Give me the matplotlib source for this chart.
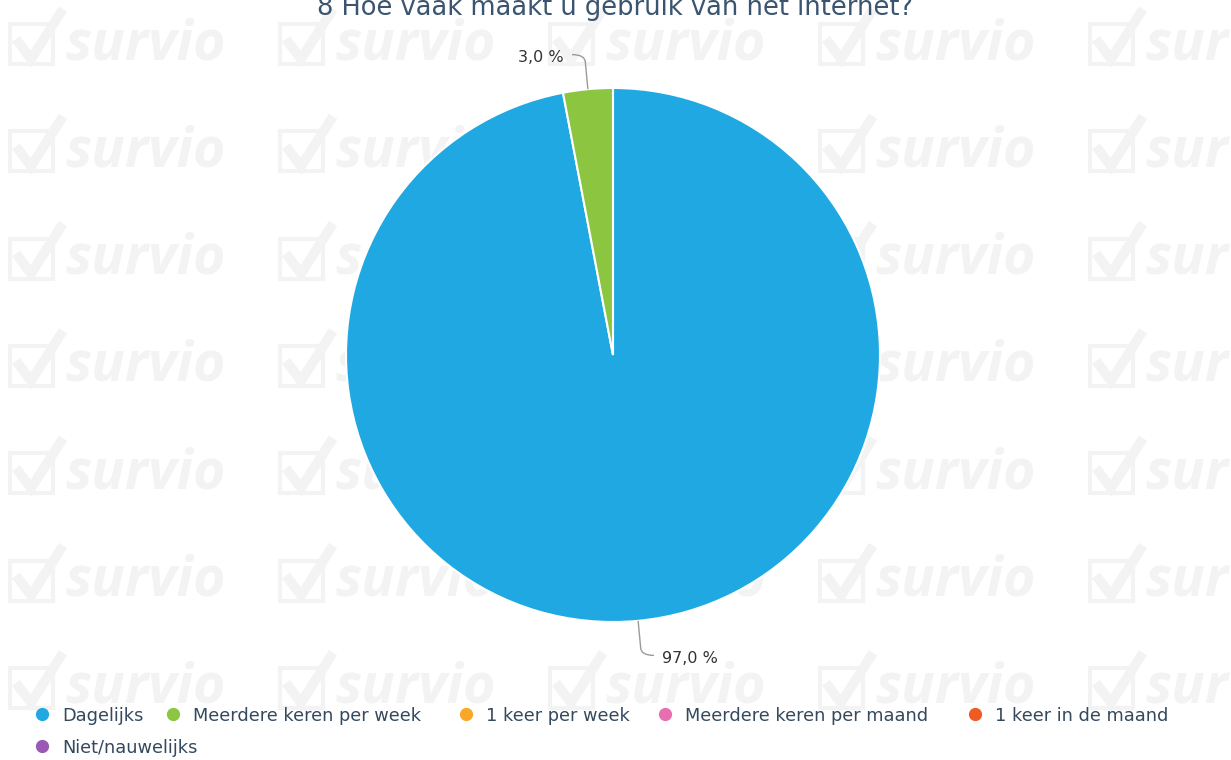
import matplotlib
matplotlib.use('Agg')
import matplotlib.pyplot as plt
import numpy as np
from matplotlib.path import Path
from matplotlib.patches import PathPatch, Rectangle
from matplotlib.lines import Line2D

# ---------------- data ----------------
title = '8 Hoe vaak maakt u gebruik van het internet?'
categories = ['Dagelijks', 'Meerdere keren per week', '1 keer per week',
              'Meerdere keren per maand', '1 keer in de maand', 'Niet/nauwelijks']
values = [97.0, 3.0, 0.0, 0.0, 0.0, 0.0]
colors = ['#1fa8e1', '#8cc540', '#f9a825', '#e76fb0', '#f05a24', '#9b59b6']

# ---------------- layout ----------------
W, H = 1231, 760
fig = plt.figure(figsize=(W / 100, H / 100), dpi=100)
fig.patch.set_facecolor('white')

def fx(px):
    return px / W

def fy(py):
    return 1 - py / H

# watermark tiles ("survio" logo)
wm_color = '#f3f3f3'
for k in range(7):
    base = 59 + 107.3 * k
    for col in [10, 280, 550, 820, 1090]:
        fig.add_artist(Rectangle((fx(col), fy(base + 5)), 43 / W, 40 / H, fill=False,
                                 edgecolor=wm_color, lw=3, transform=fig.transFigure, zorder=-6))
        fig.add_artist(Line2D([fx(col + 6), fx(col + 21), fx(col + 53)],
                              [fy(base - 20), fy(base), fy(base - 50)],
                              color=wm_color, lw=7, solid_capstyle='butt', solid_joinstyle='miter',
                              transform=fig.transFigure, zorder=-5))
        fig.text(fx(col + 55), fy(base), 'survio', fontsize=40, color=wm_color,
                 family=['Open Sans', 'DejaVu Sans'], fontweight='bold', style='italic',
                 va='baseline', ha='left', zorder=-5)

# pie axes
cx, cy, R = 613, 355, 267
L = 1.3
side = 2 * R * L
ax = fig.add_axes([fx(cx - side / 2), fy(cy + side / 2), side / W, side / H])

nz = [(v, c) for v, c in zip(values, colors) if v > 0]
ax.pie([v for v, _ in nz], colors=[c for _, c in nz], startangle=90, counterclock=False,
       radius=1.0, wedgeprops=dict(edgecolor='white', linewidth=1.5))
ax.set_xlim(-L, L)
ax.set_ylim(-L, L)
ax.set_aspect('equal')
ax.axis('off')

total = sum(values)
cum = 0.0
for v in values:
    if v <= 0:
        continue
    mid = np.deg2rad(90 - (cum + v / 2) / total * 360)
    cum += v
    c, s = np.cos(mid), np.sin(mid)
    p0 = (c * 1.0, s * 1.0)
    p1 = (c * 1.1, s * 1.1)
    sx = 1 if c >= 0 else -1
    sy = 1 if s >= 0 else -1
    yt = p1[1] + sy * 0.03
    p2 = (p1[0] + sx * 0.05, yt)
    path = Path([p0, p1, (p1[0], yt), p2],
                [Path.MOVETO, Path.LINETO, Path.CURVE3, Path.CURVE3])
    ax.add_patch(PathPatch(path, fill=False, edgecolor='#9a9a9a', lw=1.0))
    label = f'{v:.1f}'.replace('.', ',') + ' %'
    ax.text(p2[0] + sx * 0.03, yt - 0.01, label, ha='left' if sx > 0 else 'right', va='center',
            fontsize=11.5, color='#333333', family='DejaVu Sans')

# title
fig.text(fx(615), fy(15), title, ha='center', va='baseline', fontsize=18.5,
         color='#3b5570', family='DejaVu Sans')

# legend (manual, flow layout like the original)
leg_text_x = [62, 193, 486, 685, 995, 62]
leg_base_y = [721, 721, 721, 721, 721, 753]
for name, col, tx, by in zip(categories, colors, leg_text_x, leg_base_y):
    fig.add_artist(Line2D([fx(tx - 20)], [fy(by - 7)], marker='o', markersize=8.5,
                          color=col, linestyle='none', transform=fig.transFigure))
    fig.text(fx(tx), fy(by), name, ha='left', va='baseline', fontsize=12.8,
             color='#34495e', family='DejaVu Sans')

fig.savefig('out.png', dpi=100, facecolor='white')
